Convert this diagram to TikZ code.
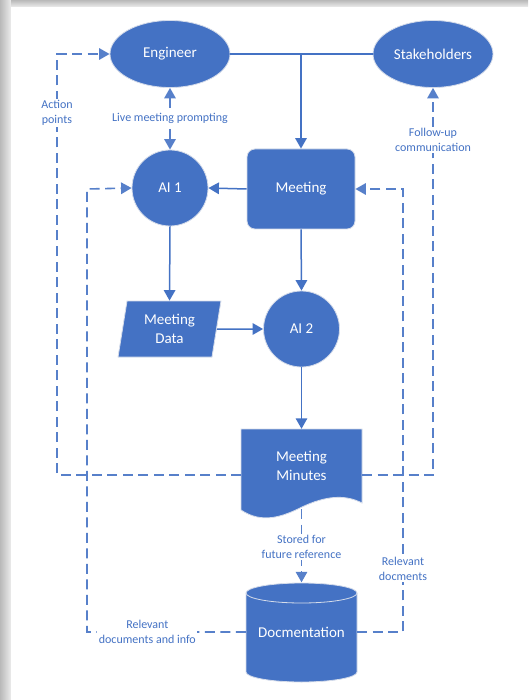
\documentclass[tikz,border=0pt]{standalone}
\usepackage{fontspec}
\setmainfont{Carlito}
\usetikzlibrary{shapes.geometric,arrows.meta}
\definecolor{officeblue}{HTML}{4472C4}
\definecolor{rimgray}{HTML}{D5DCEA}
\tikzset{
	box/.style = {fill=officeblue, draw=rimgray, line width=0.8pt, text=white,
		font=\fontsize{15}{18.5}\selectfont, align=center, inner sep=2pt},
	txtonly/.style = {text=white, font=\fontsize{15}{18.5}\selectfont, align=center},
	lbl/.style = {fill=white, text=officeblue, font=\fontsize{12}{15}\selectfont,
		align=center, inner sep=1.5pt},
	flow/.style = {draw=officeblue, line width=1.5pt},
	tip/.tip = {Triangle[length=10.5pt,width=11.5pt]},
	arr/.style = {flow, -tip},
	dashline/.style = {draw=officeblue!90, line width=1.6pt, dash pattern=on 10pt off 5.5pt},
	darr/.style = {dashline, -tip},
}
\begin{document}
\begin{tikzpicture}[x=1pt, y=-1pt]
	\useasboundingbox (0,0) rectangle (528,700);
	% page with shadow
	\shade[left color=gray!55, right color=gray!15] (0,0) rectangle (11,700);
	\shade[top color=gray!55, bottom color=gray!15] (11,0) rectangle (528,7);
	\fill[white] (11,7) rectangle (528,700);
	% document and cylinder outlines
	\begin{scope}[]
	\filldraw[fill=officeblue, draw=rimgray, line width=0.8pt] (241,429) -- (362,429) -- (362,503)
		.. controls (345,494) and (325,496) .. (302,507) .. controls (282,517) and (262,524) .. (241,510) -- cycle;
	\filldraw[fill=officeblue, draw=rimgray, line width=0.8pt] (246,593) -- (246,672)
		arc[start angle=180, end angle=0, x radius=55.5, y radius=10] -- (357,593)
		arc[start angle=0, end angle=-180, x radius=55.5, y radius=10] -- cycle;
	\draw[rimgray, line width=0.8pt] (246,593) arc[start angle=180, end angle=0, x radius=55.5, y radius=10];
	\end{scope}
	% nodes
	\node[box, ellipse, minimum width=120, minimum height=67] (eng) at (170,54) {Engineer};
	\node[box, ellipse, minimum width=120, minimum height=67] (stk) at (433,54) {Stakeholders};
	\node[box, rectangle, rounded corners=8pt, minimum width=108, minimum height=80] (meet) at (301,189) {Meeting};
	\node[box, circle, minimum size=76] (ai1) at (170,188) {AI 1};
	\node[box, trapezium, trapezium left angle=80, trapezium right angle=100, trapezium stretches=true,
		minimum width=103, minimum height=56] (md) at (169.5,329) {Meeting\\Data};
	\node[box, circle, minimum size=76] (ai2) at (301.5,329) {AI 2};
	\node[txtonly, minimum width=121, minimum height=74] (mm) at (301.5,466) {Meeting\\Minutes};
	\node[txtonly, minimum width=111, minimum height=99] (docs) at (301.5,632) {Docmentation};
	\coordinate (mmL) at (241,475);
	\coordinate (mmR) at (362,475);
	\coordinate (mmB) at (301.5,509);
	\coordinate (apc) at (57,54);
	% solid flow
	\draw[flow] (eng.east) -- (stk.west);
	\draw[arr] (meet.north |- eng.east) -- (meet.north);
	\draw[arr] (meet.west) -- (ai1.east);
	\draw[arr] (ai1.south) -- (md.north);
	\draw[arr] (md.east) -- (ai2.west);
	\draw[arr] (meet.south) -- (ai2.north);
	\draw[arr] (ai2.south) -- (mm.north);
	% dashed feedback
	\draw[dashline, tip-tip] (eng.south) -- node[lbl] {Live meeting prompting} (ai1.north);
	\draw[darr] (mmL) -| node[lbl, pos=0.93] {Action\\points} (apc) -- (eng.west);
	\draw[darr] (mmR) -| node[lbl, pos=0.933] {Follow-up\\communication} (stk.south);
	\draw[darr] (mmB) -- node[lbl, pos=0.52] {Stored for\\future reference} (docs.north);
	\draw[darr] (docs.west) -| node[lbl, pos=0.31] {Relevant\\documents and info} (87,189) -- (ai1.west);
	\draw[darr] (docs.east) -| node[lbl, pos=0.571] {Relevant\\docments} (403,189) -- (meet.east);
\end{tikzpicture}
\end{document}
